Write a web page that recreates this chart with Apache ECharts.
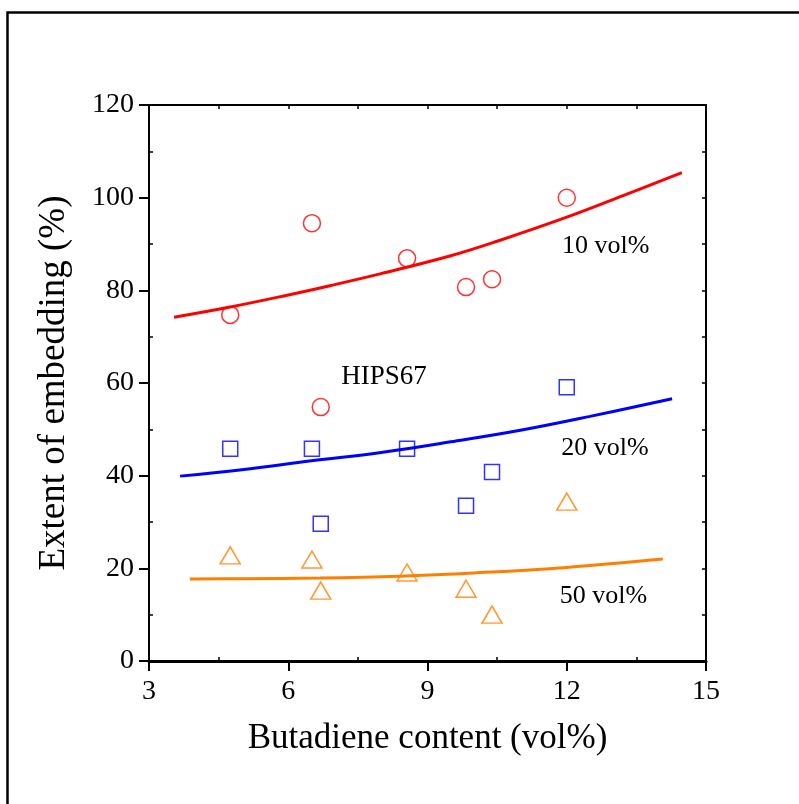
<!DOCTYPE html>
<html><head><meta charset="utf-8">
<script src="https://cdn.jsdelivr.net/npm/echarts@6/dist/echarts.min.js"></script>
<style>html,body{margin:0;padding:0;background:#fff}#c{width:799px;height:804px}</style>
</head><body><div id="c"></div>
<script>
// ---- data ----
const xTickMin = 3, xTickMax = 15, xTickStep = 3;
const yTickMin = 0, yTickMax = 120, yTickStep = 20;
const xName = 'Butadiene content (vol%)';
const yName = 'Extent of embedding (%)';

const bd10 = [4.75, 6.51, 8.56, 9.83, 10.39, 12.0, 6.70];
const emb10 = [74.7, 94.5, 86.9, 80.7, 82.4, 100.0, 54.8];
const bd20 = [4.75, 6.51, 8.56, 6.70, 9.83, 10.39, 12.0];
const emb20 = [45.8, 45.8, 45.8, 29.6, 33.5, 40.8, 59.1];
const bd50 = [4.75, 6.51, 6.70, 8.56, 9.83, 10.39, 12.0];
const emb50 = [22.8, 21.9, 15.2, 19.1, 15.6, 10.0, 34.4];

const fit10x = [3.54, 4.75, 6.0, 6.9, 8.0, 9.48, 10.5, 12.0, 13.2, 14.48];
const fit10y = [74.2, 76.4, 79.0, 81.0, 83.6, 87.4, 90.6, 95.8, 100.4, 105.4];
const fit20x = [3.67, 5.0, 6.5, 8.0, 9.5, 11.0, 12.5, 14.27];
const fit20y = [39.9, 41.3, 43.2, 45.0, 47.3, 49.8, 52.8, 56.6];
const fit50x = [3.88, 5.0, 6.68, 8.4, 10.0, 12.0, 14.07];
const fit50y = [17.7, 17.75, 17.9, 18.3, 19.0, 20.2, 22.0];

const annText = ['10 vol%', '20 vol%', '50 vol%', 'HIPS67'];
const annX = [11.9, 11.88, 11.85, 7.14];
const annY = [89.4, 45.8, 13.8, 61.1];

// ---- chart ----
const FONT = 'Liberation Serif, Times New Roman, serif';
const RED = '#ff0000', BLUE = '#0000ff', ORANGE = '#ff7f00';
const zip = (a, b) => a.map((v, i) => [v, b[i]]);
const gridRect = {left: 149, top: 105, right: 93, bottom: 143, containLabel: false};

const chart = echarts.init(document.getElementById('c'), null, {renderer: 'canvas'});
const ax = (extra) => Object.assign({
  type: 'value', splitLine: {show: false},
}, extra);

chart.setOption({
  animation: false,
  backgroundColor: '#fff',
  grid: [Object.assign({}, gridRect), Object.assign({}, gridRect)],
  xAxis: [
    ax({gridIndex: 0, position: 'bottom', min: xTickMin, max: xTickMax, interval: xTickStep,
      name: xName, nameLocation: 'middle', nameGap: 60,
      nameTextStyle: {fontFamily: FONT, fontSize: 35, color: '#000'},
      axisLine: {show: true, onZero: false, lineStyle: {color: '#000', width: 3}},
      axisTick: {show: true, inside: false, length: 10, lineStyle: {color: '#000', width: 2}},
      axisLabel: {show: true, margin: 17, fontFamily: FONT, fontSize: 28, color: '#000'}}),
    ax({gridIndex: 0, position: 'top', min: xTickMin, max: xTickMax, interval: xTickStep,
      axisLine: {show: true, onZero: false, lineStyle: {color: '#000', width: 2}},
      axisTick: {show: true, inside: true, length: 4, lineStyle: {color: '#000', width: 1.5}},
      minorTick: {show: true, splitNumber: 2, length: 4, lineStyle: {color: '#000', width: 1.5}},
      axisLabel: {show: false}}),
    ax({gridIndex: 1, position: 'bottom', min: xTickMin, max: xTickMax, interval: xTickStep,
      axisLine: {show: false},
      axisTick: {show: false, inside: true},
      minorTick: {show: true, splitNumber: 2, length: 4, lineStyle: {color: '#000', width: 1.5}},
      axisLabel: {show: false}})
  ],
  yAxis: [
    ax({gridIndex: 0, position: 'left', min: yTickMin, max: yTickMax, interval: yTickStep,
      name: yName, nameLocation: 'middle', nameGap: 76, nameRotate: 90,
      nameTextStyle: {fontFamily: FONT, fontSize: 37, color: '#000'},
      axisLine: {show: true, onZero: false, lineStyle: {color: '#000', width: 2}},
      axisTick: {show: true, inside: false, length: 10, lineStyle: {color: '#000', width: 2}},
      axisLabel: {show: true, margin: 15, fontFamily: FONT, fontSize: 28, color: '#000'}}),
    ax({gridIndex: 0, position: 'right', min: yTickMin, max: yTickMax, interval: yTickStep,
      axisLine: {show: true, onZero: false, lineStyle: {color: '#000', width: 2}},
      axisTick: {show: true, inside: true, length: 4, lineStyle: {color: '#000', width: 1.5}},
      minorTick: {show: true, splitNumber: 2, length: 4, lineStyle: {color: '#000', width: 1.5}},
      axisLabel: {show: false}}),
    ax({gridIndex: 1, position: 'left', min: yTickMin, max: yTickMax, interval: yTickStep,
      axisLine: {show: false},
      axisTick: {show: false, inside: true},
      minorTick: {show: true, splitNumber: 2, length: 4, lineStyle: {color: '#000', width: 1.5}},
      axisLabel: {show: false}})
  ],
  series: [
    {type: 'line', xAxisIndex: 0, yAxisIndex: 0, data: zip(fit10x, fit10y), smooth: 0.4, showSymbol: false,
      lineStyle: {color: RED, width: 3}, z: 2},
    {type: 'line', xAxisIndex: 0, yAxisIndex: 0, data: zip(fit20x, fit20y), smooth: 0.4, showSymbol: false,
      lineStyle: {color: BLUE, width: 3}, z: 2},
    {type: 'line', xAxisIndex: 0, yAxisIndex: 0, data: zip(fit50x, fit50y), smooth: 0.4, showSymbol: false,
      lineStyle: {color: ORANGE, width: 3}, z: 2},
    {type: 'scatter', xAxisIndex: 0, yAxisIndex: 0, data: zip(bd10, emb10), symbol: 'circle', symbolSize: 17,
      itemStyle: {color: 'rgba(0,0,0,0)', borderColor: RED, borderWidth: 1.5}, z: 3},
    {type: 'scatter', xAxisIndex: 0, yAxisIndex: 0, data: zip(bd20, emb20), symbol: 'rect', symbolSize: 15,
      itemStyle: {color: 'rgba(0,0,0,0)', borderColor: BLUE, borderWidth: 1.5}, z: 3},
    {type: 'scatter', xAxisIndex: 0, yAxisIndex: 0, data: zip(bd50, emb50), symbol: 'triangle', symbolSize: [20, 17],
      itemStyle: {color: 'rgba(0,0,0,0)', borderColor: ORANGE, borderWidth: 1.5}, z: 3}
  ]
});

const texts = annText.map((t, i) => {
  const p = chart.convertToPixel({xAxisIndex: 0, yAxisIndex: 0}, [annX[i], annY[i]]);
  return {type: 'text', left: p[0], top: p[1] - 14,
    style: {text: t, font: (i === 3 ? '27px ' : '26px ') + FONT, fill: '#000'}};
});
chart.setOption({graphic: [
  {type: 'rect', shape: {x: 7.5, y: 12.5, width: 1000, height: 1000},
    style: {fill: 'none', stroke: '#000', lineWidth: 2.5}, silent: true}
].concat(texts)});
</script>
</body></html>
